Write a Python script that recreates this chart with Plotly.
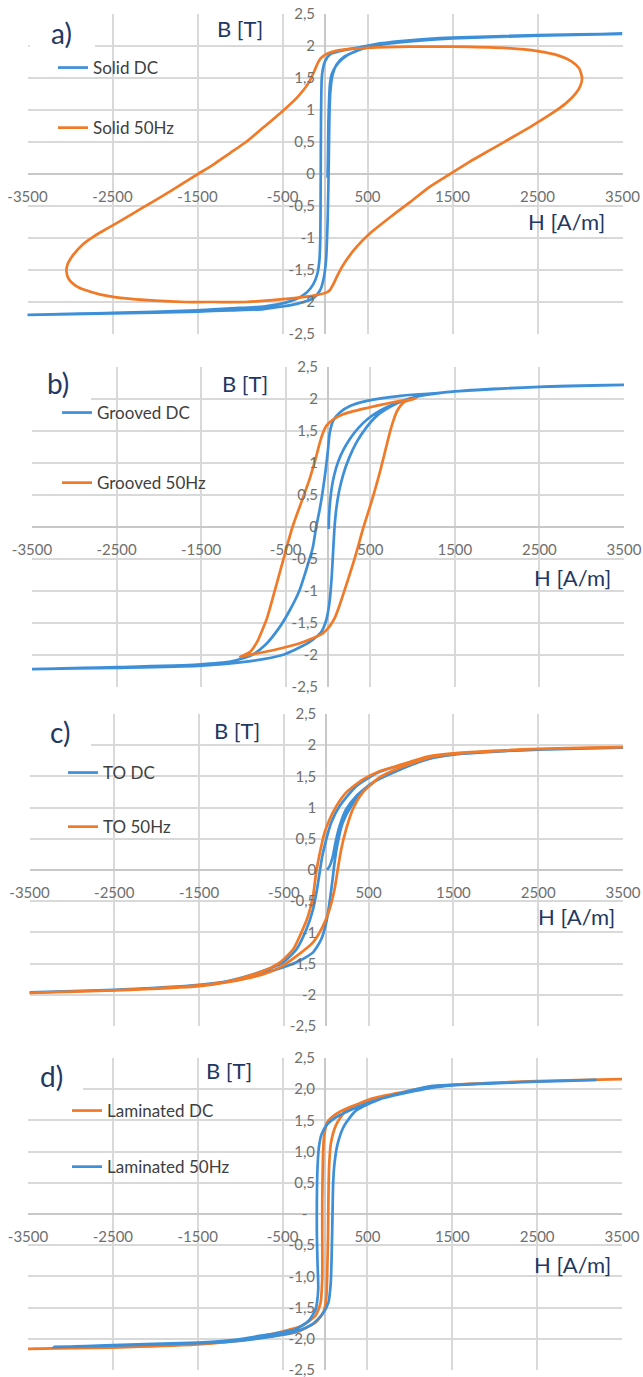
import plotly.graph_objects as go

# ---------------- data (H in A/m, B in T) ----------------
# a) Solid
a_dc_H = [30, 35, 40, 48, 58, 80, 125, 190, 280, 420, 650, 1000, 1500, 2500, 3500,
          2500, 1500, 1000, 645, 371, 176, 59, 0, -27, -39, -47, -51, -55, -66, -90, -137, -215, -332, -527, -723, -1114, -1500, -2500, -3500,
          -2500, -1500, -1114, -723, -332, -137, -59, -20, 12, 31, 43, 51, 62, 86, 137, 234, 449, 762, 1231, 1500, 2500, 3500]
a_dc_B = [-0.06, 0.3, 0.8, 1.15, 1.4, 1.56, 1.68, 1.78, 1.87, 1.95, 2.02, 2.07, 2.12, 2.17, 2.19,
          2.17, 2.13, 2.09, 2.04, 1.97, 1.92, 1.87, 1.76, 1.63, 1.48, 0.85, -0.2, -0.98, -1.35, -1.56, -1.72, -1.85, -1.95, -2.03, -2.07, -2.1, -2.13, -2.17, -2.2,
          -2.18, -2.15, -2.13, -2.11, -2.03, -1.94, -1.82, -1.66, -1.35, -0.72, 0.06, 0.85, 1.27, 1.53, 1.71, 1.84, 1.96, 2.04, 2.1, 2.12, 2.16, 2.19]
a_ac_H = [3024, 2990, 2900, 2750, 2500, 2100, 1500, 1000, 500, 200, 60, 0, -40, -75, -100, -125, -195, -332, -527, -723, -930, -1114, -1300, -1494,
          -1700, -1895, -2150, -2376, -2560, -2714, -2850, -2960, -3025, -3042, -3015, -2940, -2830, -2650, -2376, -2000, -1654, -1300, -930, -527,
          -137, 20, 59, 98, 156, 234, 371, 527, 762, 1000, 1231, 1470, 1700, 1950, 2200, 2445, 2650, 2830, 2950, 3005, 3024]
a_ac_B = [1.5, 1.65, 1.76, 1.85, 1.92, 1.97, 1.99, 1.99, 1.97, 1.94, 1.9, 1.86, 1.82, 1.76, 1.69, 1.61, 1.42, 1.19, 0.95, 0.73, 0.5, 0.33, 0.16, 0.0,
          -0.17, -0.33, -0.53, -0.71, -0.85, -0.97, -1.1, -1.26, -1.4, -1.52, -1.64, -1.74, -1.81, -1.88, -1.94, -1.98, -2.0, -2.0, -2.0, -1.96,
          -1.9, -1.85, -1.81, -1.72, -1.56, -1.38, -1.14, -0.93, -0.68, -0.44, -0.2, 0.0, 0.19, 0.38, 0.57, 0.76, 0.93, 1.1, 1.26, 1.38, 1.5]

# b) Grooved
b_dc_H = [8, 12, 25, 45, 75, 120, 180, 260, 360, 480, 620, 780, 940, 1100, 1500, 2500, 3500,
          2500, 1500, 1260, 860, 460, 260, 140, 60, 20, 0, -28, -60, -100, -140, -180, -260, -340, -460, -580, -740, -900, -1140, -1540, -2500, -3500,
          -2500, -1540, -940, -540, -220, -80, -20, 20, 45, 60, 75, 95, 130, 180, 250, 340, 450, 580, 740, 900, 1100, 1500, 2500, 3500]
b_dc_B = [-0.03, 0.15, 0.4, 0.62, 0.82, 1.02, 1.2, 1.38, 1.55, 1.7, 1.82, 1.92, 1.99, 2.05, 2.12, 2.19, 2.22,
          2.19, 2.12, 2.09, 2.05, 1.97, 1.89, 1.79, 1.66, 1.47, 1.21, 0.89, 0.58, 0.26, 0.0, -0.32, -0.68, -1.0, -1.32, -1.58, -1.84, -2.0, -2.1, -2.15, -2.19, -2.22,
          -2.2, -2.17, -2.1, -2.0, -1.8, -1.64, -1.45, -1.15, -0.75, -0.4, -0.05, 0.25, 0.55, 0.82, 1.08, 1.33, 1.55, 1.74, 1.88, 1.98, 2.05, 2.12, 2.19, 2.22]
b_ac_H = [1040, 960, 860, 700, 460, 300, 180, 60, -20, -60, -90, -140, -220, -320, -420, -520, -620, -720, -780, -840, -920, -1040,
          -900, -740, -540, -340, -180, -60, 20, 80, 140, 220, 320, 420, 520, 620, 720, 770, 820, 900, 1040]
b_ac_B = [2.01, 1.99, 1.97, 1.93, 1.86, 1.81, 1.76, 1.68, 1.58, 1.47, 1.35, 1.1, 0.74, 0.37, 0.0, -0.47, -0.95, -1.42, -1.62, -1.8, -1.95, -2.03,
          -1.99, -1.95, -1.89, -1.82, -1.74, -1.66, -1.55, -1.42, -1.21, -0.89, -0.47, 0.0, 0.42, 0.89, 1.42, 1.65, 1.82, 1.95, 2.01]

# c) TO
c_dc_H = [8, 39, 78, 109, 156, 234, 351, 546, 819, 1209, 1500, 2500, 3500,
          2500, 1500, 1209, 624, 351, 156, 59, 0, -47, -78, -109, -156, -234, -351, -507, -750, -1131, -1500, -2500, -3500,
          -2500, -1500, -1131, -750, -351, -156, -59, 0, 39, 70, 98, 136, 195, 293, 429, 663, 1209, 1500, 2500, 3500]
c_dc_B = [0.0, 0.06, 0.22, 0.44, 0.7, 0.97, 1.18, 1.4, 1.58, 1.78, 1.85, 1.93, 1.96,
          1.93, 1.86, 1.8, 1.57, 1.34, 1.02, 0.76, 0.49, 0.22, -0.04, -0.31, -0.63, -0.95, -1.27, -1.48, -1.62, -1.77, -1.84, -1.92, -1.96,
          -1.92, -1.85, -1.78, -1.66, -1.48, -1.32, -1.11, -0.84, -0.52, -0.2, 0.12, 0.44, 0.76, 1.02, 1.26, 1.5, 1.78, 1.85, 1.93, 1.96]
c_ac_H = [3500, 2500, 1500, 1209, 819, 624, 429, 234, 117, 39, -20, -59, -98, -125, -156, -215, -293, -390, -546, -741, -1131, -1500, -2500, -3500,
          -2500, -1500, -1131, -741, -546, -351, -156, -39, 39, 98, 136, 176, 234, 312, 429, 624, 819, 1209, 1500, 2500, 3500]
c_ac_B = [1.97, 1.94, 1.87, 1.82, 1.66, 1.58, 1.45, 1.24, 1.02, 0.81, 0.6, 0.38, 0.12, -0.1, -0.42, -0.74, -1.0, -1.27, -1.48, -1.62, -1.78, -1.85, -1.93, -1.97,
          -1.93, -1.86, -1.79, -1.67, -1.56, -1.38, -1.16, -0.9, -0.63, -0.31, 0.01, 0.33, 0.65, 0.97, 1.24, 1.48, 1.61, 1.8, 1.86, 1.94, 1.97]

# d) Laminated
d_dc_H = [-3500, -2500, -1500, -1152, -752, -352, -112, -12, 16, 28, 36, 40, 48, 68, 128, 248, 528, 1248, 1500, 2500, 3500,
          2500, 1500, 1248, 648, 288, 128, 28, -12, -24, -32, -32, -32, -52, -112, -272, -752, -1152, -1500, -2500, -3500]
d_dc_B = [-2.16, -2.14, -2.09, -2.05, -1.98, -1.9, -1.74, -1.55, -1.32, -0.84, -0.31, 0.22, 0.75, 1.12, 1.42, 1.66, 1.84, 2.03, 2.07, 2.13, 2.16,
          2.13, 2.07, 2.04, 1.87, 1.71, 1.6, 1.47, 1.23, 0.91, 0.22, -0.36, -1.0, -1.42, -1.63, -1.79, -1.96, -2.05, -2.08, -2.13, -2.16]
d_ac_H = [-3200, -2500, -1500, -1152, -752, -352, -152, -32, 40, 68, 80, 88, 96, 112, 148, 228, 368, 648, 1248, 1500, 2500, 3200,
          2500, 1500, 1248, 848, 528, 288, 128, 28, -40, -72, -88, -96, -96, -88, -80, -112, -192, -352, -752, -1152, -1500, -2500, -3200]
d_ac_B = [-2.13, -2.11, -2.07, -2.05, -1.99, -1.89, -1.77, -1.61, -1.42, -1.1, -0.57, -0.04, 0.49, 0.81, 1.12, 1.42, 1.66, 1.84, 2.02, 2.06, 2.12, 2.15,
          2.12, 2.07, 2.05, 1.92, 1.79, 1.66, 1.55, 1.44, 1.28, 1.07, 0.75, 0.22, -0.31, -0.79, -1.21, -1.53, -1.71, -1.85, -1.95, -2.03, -2.06, -2.1, -2.13]

x_ticks = [-3500, -2500, -1500, -500, 500, 1500, 2500, 3500]
x_tick_text = ["-3500", "-2500", "-1500", "-500", "500", "1500", "2500", "3500"]
y_ticks = [-2.5, -2.0, -1.5, -1.0, -0.5, 0.0, 0.5, 1.0, 1.5, 2.0, 2.5]
y_text_abc = ["-2,5", "-2", "-1,5", "-1", "-0,5", "0", "0,5", "1", "1,5", "2", "2,5"]
y_text_d = ["-2,5", "-2,0", "-1,5", "-1,0", "-0,5", "-\u00a0\u00a0", "0,5", "1,0", "1,5", "2,0", "2,5"]

panel_letters = ["a)", "b)", "c)", "d)"]
names = [("Solid DC", "Solid 50Hz"), ("Grooved DC", "Grooved 50Hz"),
         ("TO DC", "TO 50Hz"), ("Laminated DC", "Laminated 50Hz")]

# ---------------- styling / geometry ----------------
OFF = 0
W, HP = 643 - 2 * OFF, 1377 - 2 * OFF
BLUE = "#3d8fd8"
ORANGE = "#f07a27"
NAVY = "#1f3864"
GRID = "#d9d9d9"
TICK = "#6f6f6f"
FONT = "Lato"

# pixel boxes (in window pixels) of the four plot areas: (x_left, x_right, y_top, y_bottom)
boxes = [(27.5, 622.5, 14, 334), (32, 624, 367, 687), (29.5, 623, 714, 1026), (28, 622, 1058, 1370)]
# white boxes behind the panel letters
white = [(29.5, 95, 0, 50), (0, 91, 345, 410), (0, 91, 695, 757), (0, 83, 1040, 1103)]
letter_pos = [(61, 33), (58, 383), (60, 732), (51, 1076)]
bt_pos = [(240, 28), (245, 383), (237, 730), (229, 1070)]
ha_pos = [(566, 222), (572, 577), (576, 916), (572, 1264)]
# legend: line start x, first entry centre y, distance between entries
leg_pos = [(51, 66, 61), (55, 411, 71), (61, 771, 55), (65, 1109, 57)]


def px(x):
    return min(1.0, max(0.0, (x - OFF) / W))


def py(y):
    return min(1.0, max(0.0, 1 - (y - OFF) / HP))


series = [
    ((a_dc_H, a_dc_B, BLUE), (a_ac_H, a_ac_B, ORANGE)),
    ((b_dc_H, b_dc_B, BLUE), (b_ac_H, b_ac_B, ORANGE)),
    ((c_dc_H, c_dc_B, BLUE), (c_ac_H, c_ac_B, ORANGE)),
    ((d_dc_H, d_dc_B, ORANGE), (d_ac_H, d_ac_B, BLUE)),
]

fig = go.Figure()
layout = dict(
    width=W, height=HP, autosize=False,
    margin=dict(l=0, r=0, t=0, b=0, pad=0, autoexpand=False),
    paper_bgcolor="white", plot_bgcolor="white",
    font=dict(family=FONT, color=TICK),
    showlegend=True,
)
annotations = []
shapes = []

for i in range(4):
    sfx = "" if i == 0 else str(i + 1)
    xl, xr, yt, yb = boxes[i]
    xa = "x" + sfx
    ya = "y" + sfx
    leg = "legend" + sfx
    for j, (hh, bb, col) in enumerate(series[i]):
        fig.add_trace(go.Scatter(
            x=hh, y=bb, mode="lines", name=names[i][j],
            line=dict(color=col, width=2.7, shape="spline", smoothing=0.6),
            xaxis=xa, yaxis=ya, legend=leg, legendgroup=f"g{i}{j}",
            hoverinfo="skip",
        ))
    y0 = (yt + yb) / 2
    x0 = (xl + xr) / 2
    layout["xaxis" + sfx] = dict(
        domain=[px(xl), px(xr)], range=[-3500, 3500], anchor="free", position=py(y0),
        tickvals=x_ticks, ticktext=x_tick_text, showgrid=True, gridcolor=GRID, gridwidth=1.5,
        zeroline=True, zerolinecolor="#c8c8c8", zerolinewidth=1.5, showline=False,
        ticks="", ticklabelstandoff=12, tickfont=dict(size=15, color=TICK, family=FONT),
        ticklabeloverflow="allow", fixedrange=True, automargin=False,
    )
    layout["yaxis" + sfx] = dict(
        domain=[py(yb), py(yt)], range=[-2.5, 2.5], anchor="free", position=px(x0),
        tickvals=y_ticks, ticktext=(y_text_d if i == 3 else y_text_abc),
        showgrid=True, gridcolor=GRID, gridwidth=1.5,
        zeroline=True, zerolinecolor="#c8c8c8", zerolinewidth=1.5, showline=False,
        ticks="", ticklabelstandoff=10, tickfont=dict(size=15, color=TICK, family=FONT),
        ticklabeloverflow="allow", fixedrange=True, automargin=False,
    )
    lx, ly, gap = leg_pos[i]
    layout[leg] = dict(
        x=px(lx + 2), y=py(ly - 16), xanchor="left", yanchor="top",
        bgcolor="rgba(0,0,0,0)", borderwidth=0,
        font=dict(size=17, color="#404040", family=FONT),
        traceorder="grouped", tracegroupgap=gap - 26,
    )
    wx0, wx1, wy0, wy1 = white[i]
    shapes.append(dict(type="rect", xref="paper", yref="paper",
                       x0=px(wx0), x1=px(wx1), y0=py(wy1), y1=py(wy0),
                       fillcolor="white", line=dict(width=0), layer="above"))
    annotations.append(dict(text=panel_letters[i], x=px(letter_pos[i][0]), y=py(letter_pos[i][1]),
                            xref="paper", yref="paper", showarrow=False, xanchor="center", yanchor="middle",
                            font=dict(size=28, color=NAVY, family=FONT)))
    annotations.append(dict(text="B [T]", x=px(bt_pos[i][0]), y=py(bt_pos[i][1]),
                            xref="paper", yref="paper", showarrow=False, xanchor="center", yanchor="middle",
                            font=dict(size=22, color=NAVY, family=FONT)))
    annotations.append(dict(text="H [A/m]", x=px(ha_pos[i][0]), y=py(ha_pos[i][1]),
                            xref="paper", yref="paper", showarrow=False, xanchor="center", yanchor="middle",
                            font=dict(size=22, color=NAVY, family=FONT)))

layout["annotations"] = annotations
layout["shapes"] = shapes
fig.update_layout(**layout)

fig.write_html("out.html", config={"displayModeBar": False},
               post_script="document.documentElement.style.margin='0';document.body.style.margin='0';"
                           "document.body.style.overflow='hidden';window.scrollTo(0,0);")
